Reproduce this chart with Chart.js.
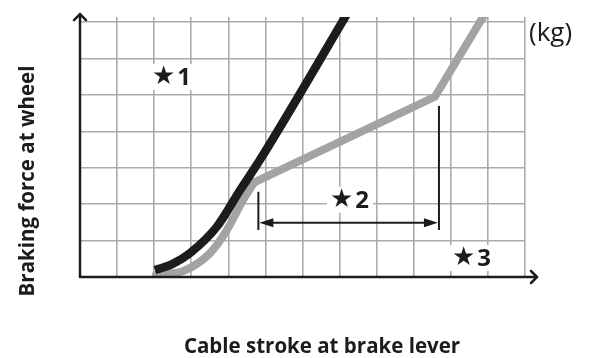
<!DOCTYPE html>
<html>
<head>
<meta charset="utf-8">
<script src="https://cdn.jsdelivr.net/npm/chart.js@4.4.1/dist/chart.umd.min.js"></script>
<style>
  html, body { margin: 0; padding: 0; background: #fff; }
  #wrap { width: 591px; height: 358px; }
</style>
</head>
<body>
<div id="wrap"><canvas id="c" width="591" height="358"></canvas></div>
<script>
// Grid divisions (arbitrary units, no numeric labels are shown)
const strokeTicks = [0, 1, 2, 3, 4, 5, 6, 7, 8, 9, 10, 11, 12];
const forceTicks = [0, 1, 2, 3, 4, 5, 6, 7];

// Curve ★1 (black)
const stroke1 = [2.02, 2.50, 2.97, 3.69, 4.32, 4.85, 7.36];
const force1  = [0.19, 0.36, 0.66, 1.38, 2.39, 3.21, 7.50];

// Curve ★3 (grey): soft initial take-up, then two straight stages
const stroke3Soft = [2.05, 2.40, 2.78, 3.50, 3.96, 4.40, 4.70];
const force3Soft  = [0.06, 0.09, 0.16, 0.65, 1.29, 2.12, 2.60];
const stroke3Lin  = [4.70, 9.57, 11.08];
const force3Lin   = [2.60, 4.95, 7.50];

// ★2 span marker: start/end stroke, tick heights and arrow level
const span2Stroke = [4.81, 9.68];
const span2Top    = [2.34, 4.70];
const span2Base   = 1.29;
const span2Arrow  = 1.49;

// Callout labels
const calloutMark   = '★';
const calloutNum    = ['1', '2', '3'];
const calloutStroke = [2.48, 7.28, 10.57];
const calloutForce  = [5.49, 2.12, 0.52];

const xTitle = 'Cable stroke at brake lever';
const yTitle = 'Braking force at wheel';
const unitText = '(kg)';

const pts = (xs, ys) => xs.map((x, i) => ({ x: x, y: ys[i] }));

const INK = '#1c1c1c';
const GREY = '#a3a3a3';
const FONT = '"Open Sans", "DejaVu Sans", sans-serif';
const STAR_FONT = 'bold 26px "DejaVu Sans", sans-serif';
const NUM_FONT = 'bold 24px ' + FONT;

function arrowHead(ctx, x, y, dir, len, half) {
  // filled triangular head pointing in direction dir (+1 right, -1 left)
  ctx.beginPath();
  ctx.moveTo(x, y);
  ctx.lineTo(x - dir * len, y - half);
  ctx.lineTo(x - dir * len, y + half);
  ctx.closePath();
  ctx.fill();
}

const decorations = {
  id: 'decorations',
  afterDatasetsDraw(chart) {
    const ctx = chart.ctx;
    const xs = chart.scales.x, ys = chart.scales.y;
    const x0 = xs.getPixelForValue(0), y0 = ys.getPixelForValue(0);
    const xEnd = xs.getPixelForValue(12), yTop = ys.getPixelForValue(7);
    ctx.save();

    // ★2 span marker
    ctx.strokeStyle = INK; ctx.fillStyle = INK; ctx.lineWidth = 2;
    const aY = ys.getPixelForValue(span2Arrow);
    const sx = span2Stroke.map(v => xs.getPixelForValue(v));
    span2Stroke.forEach((v, i) => {
      ctx.beginPath();
      ctx.moveTo(sx[i], ys.getPixelForValue(span2Base));
      ctx.lineTo(sx[i], ys.getPixelForValue(span2Top[i]));
      ctx.stroke();
    });
    ctx.beginPath();
    ctx.moveTo(sx[0] + 10, aY); ctx.lineTo(sx[1] - 10, aY); ctx.stroke();
    arrowHead(ctx, sx[0] + 1, aY, -1, 14, 4.5);
    arrowHead(ctx, sx[1] - 1, aY, 1, 14, 4.5);

    // callout labels on white: star mark, small gap, then the number
    ctx.textBaseline = 'middle'; ctx.textAlign = 'left';
    calloutNum.forEach((n, i) => {
      const px = xs.getPixelForValue(calloutStroke[i]);
      const py = ys.getPixelForValue(calloutForce[i]);
      ctx.font = STAR_FONT;
      const ws = ctx.measureText(calloutMark).width + 1;
      ctx.font = NUM_FONT;
      const wn = ctx.measureText(n).width;
      const w = ws + wn;
      const left = px - w / 2;
      ctx.fillStyle = '#fff';
      ctx.fillRect(left - 4, py - 13, w + 8, 26);
      ctx.fillStyle = INK;
      ctx.font = STAR_FONT;
      ctx.fillText(calloutMark, left - 1, py);
      ctx.font = NUM_FONT;
      ctx.fillText(n, left + ws, py + 1);
    });

    // axes with open arrow tips
    ctx.strokeStyle = INK; ctx.lineWidth = 2.5; ctx.lineCap = 'round'; ctx.lineJoin = 'round';
    ctx.beginPath();
    ctx.moveTo(x0, y0); ctx.lineTo(xEnd + 12, y0);
    ctx.moveTo(x0, y0); ctx.lineTo(x0, yTop - 8);
    ctx.stroke();
    ctx.beginPath();
    ctx.moveTo(xEnd + 6, y0 - 6); ctx.lineTo(xEnd + 12, y0); ctx.lineTo(xEnd + 6, y0 + 6);
    ctx.moveTo(x0 - 6, yTop - 2); ctx.lineTo(x0, yTop - 8); ctx.lineTo(x0 + 6, yTop - 2);
    ctx.stroke();

    // unit
    ctx.fillStyle = INK;
    ctx.font = '26px ' + FONT;
    ctx.textAlign = 'left'; ctx.textBaseline = 'middle';
    ctx.fillText(unitText, xEnd + 4, yTop + 11);

    // axis titles
    ctx.font = 'bold 20.5px ' + FONT;
    ctx.textAlign = 'center';
    ctx.fillText(xTitle, 322, 347);
    ctx.translate(28, 181);
    ctx.rotate(-Math.PI / 2);
    ctx.fillText(yTitle, 0, 0);
    ctx.restore();
  }
};

new Chart(document.getElementById('c'), {
  type: 'line',
  data: {
    datasets: [
      {
        data: pts(stroke1, force1), borderColor: INK, borderWidth: 8.5,
        cubicInterpolationMode: 'monotone', pointRadius: 0, order: 0,
        borderCapStyle: 'butt'
      },
      {
        data: pts(stroke3Soft, force3Soft), borderColor: GREY, borderWidth: 8,
        cubicInterpolationMode: 'monotone', pointRadius: 0, order: 1,
        borderCapStyle: 'round'
      },
      {
        data: pts(stroke3Lin, force3Lin), borderColor: GREY, borderWidth: 8,
        tension: 0, pointRadius: 0, order: 1, borderJoinStyle: 'miter',
        borderCapStyle: 'round'
      }
    ]
  },
  options: {
    responsive: false,
    devicePixelRatio: 1,
    animation: false,
    layout: { padding: { left: 80, right: 66, top: 17, bottom: 81 } },
    plugins: { legend: { display: false }, tooltip: { enabled: false } },
    scales: {
      x: {
        type: 'linear', min: 0, max: 12,
        afterBuildTicks: s => { s.ticks = strokeTicks.map(v => ({ value: v })); },
        ticks: { display: false },
        border: { display: false },
        grid: { color: '#ababab', lineWidth: 1.6, drawTicks: false }
      },
      y: {
        type: 'linear', min: 0, max: 7.14,
        afterBuildTicks: s => { s.ticks = forceTicks.map(v => ({ value: v })); },
        ticks: { display: false },
        border: { display: false },
        grid: { color: '#ababab', lineWidth: 1.6, drawTicks: false }
      }
    }
  },
  plugins: [decorations]
});
</script>
</body>
</html>
